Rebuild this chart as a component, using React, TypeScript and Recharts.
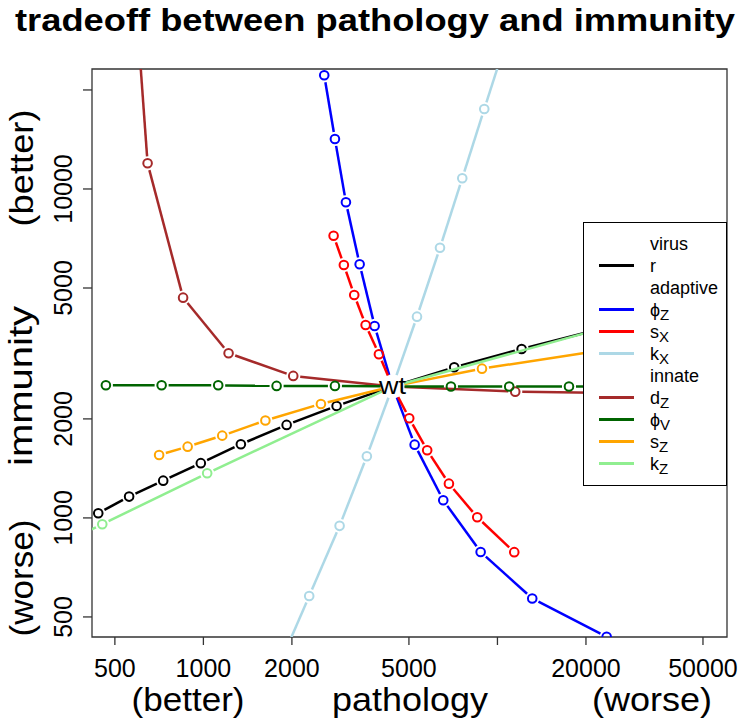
import { ScatterChart, Scatter, XAxis, YAxis, ReferenceArea, Legend } from 'recharts';

const FONT = '"Liberation Sans", Arial, sans-serif';

// axis ranges and ticks (log scales)
const X_DOMAIN = [418, 60350];
const Y_DOMAIN = [434.5, 23160];
const X_TICKS = [500, 1000, 2000, 5000, 10000, 20000, 50000];
const Y_TICKS = [500, 1000, 2000, 5000, 10000, 20000];
const X_HIDDEN_LABEL = 10000;
const Y_HIDDEN_LABEL = 20000;

// wild type, every curve passes through it
const WT_X = 4400;
const WT_Y = 2510;

// virus: r
const rX = [439, 559, 730, 980, 1341, 1919, 2838, WT_X, 7130, 12085, 21000];
const rY = [1033, 1161, 1298, 1467, 1675, 1918, 2190, WT_Y, 2871, 3264, 3700];

// adaptive: phi_Z, s_X, k_X
const phiZX = [2576, 2801, 3053, 3399, 3822, WT_X, 5229, 6542, 8767, 13133, 23520];
const phiZY = [22160, 14190, 9111, 5904, 3833, WT_Y, 1670, 1132, 788, 569, 435];

const sXX = [2772, 3004, 3258, 3562, 3953, WT_X, 5012, 5769, 6839, 8537, 11407];
const sXY = [7211, 5875, 4762, 3861, 3145, WT_Y, 2010, 1606, 1271, 1005, 787];

const kXX = [1805, 2290, 2905, 3597, WT_X, 5326, 6377, 7592, 9020, 10750];
const kXY = [354, 579, 946, 1540, WT_Y, 4092, 6630, 10780, 17510, 28500];

// innate: d_Z, phi_V, s_Z, k_Z
const dZX = [560, 646, 853, 1218, 2021, WT_X, 11495, 30000];
const dZY = [70000, 11970, 4674, 3167, 2702, WT_Y, 2420, 2390];

const phiVX = [466, 721, 1123, 1774, 2801, WT_X, 6947, 10966, 17510, 27700];
const phiVY = [2530, 2530, 2530, 2520, 2520, WT_Y, 2510, 2510, 2510, 2510];

const sZX = [707, 884, 1159, 1625, 2510, WT_X, 8860, 24000];
const sZY = [1554, 1647, 1779, 1978, 2221, WT_Y, 2843, 3260];

const kZX = [300, 453, 1030, WT_X, 22000];
const kZY = [800, 957, 1367, WT_Y, 3740];

type Pt = { x: number; y: number; wt: boolean };

const makeSeries = (xs: number[], ys: number[]): Pt[] =>
  xs.map((x, i) => ({ x, y: ys[i], wt: x === WT_X && ys[i] === WT_Y }));

const SERIES = [
  { key: 'r', color: '#000000', data: makeSeries(rX, rY) },
  { key: 'phiZ', color: '#0000FF', data: makeSeries(phiZX, phiZY) },
  { key: 'sX', color: '#FF0000', data: makeSeries(sXX, sXY) },
  { key: 'kX', color: '#ADD8E6', data: makeSeries(kXX, kXY) },
  { key: 'dZ', color: '#A52A2A', data: makeSeries(dZX, dZY) },
  { key: 'phiV', color: '#006400', data: makeSeries(phiVX, phiVY) },
  { key: 'sZ', color: '#FFA500', data: makeSeries(sZX, sZY) },
  { key: 'kZ', color: '#90EE90', data: makeSeries(kZX, kZY) },
];

// legend rows: [main text, subscript, colour or null for group headings]
const LEGEND_ROWS: [string, string, string | null][] = [
  ['virus', '', null],
  ['r', '', '#000000'],
  ['adaptive', '', null],
  ['\u03D5', 'Z', '#0000FF'],
  ['s', 'X', '#FF0000'],
  ['k', 'X', '#ADD8E6'],
  ['innate', '', null],
  ['d', 'Z', '#A52A2A'],
  ['\u03D5', 'V', '#006400'],
  ['s', 'Z', '#FFA500'],
  ['k', 'Z', '#90EE90'],
];

const CIRCLE_GAP = 7;
const WT_GAP = 12;

// R's type="b": segments stop short of every point
function gapLine(data: Pt[], color: string) {
  return (props: any) => {
    const pts = props.points || [];
    const segs = [];
    for (let i = 0; i < pts.length - 1; i++) {
      const a = pts[i];
      const b = pts[i + 1];
      const dx = b.x - a.x;
      const dy = b.y - a.y;
      const len = Math.hypot(dx, dy);
      const ga = data[i].wt ? WT_GAP : CIRCLE_GAP;
      const gb = data[i + 1].wt ? WT_GAP : CIRCLE_GAP;
      if (len <= ga + gb) continue;
      const ux = dx / len;
      const uy = dy / len;
      segs.push(
        <line key={i} x1={a.x + ux * ga} y1={a.y + uy * ga} x2={b.x - ux * gb} y2={b.y - uy * gb}
          stroke={color} strokeWidth={2.5} />
      );
    }
    return <g>{segs}</g>;
  };
}

function ring(color: string) {
  return (props: any) => {
    if (props.payload?.wt) return <g />;
    return <circle cx={props.cx} cy={props.cy} r={4.3} fill="none" stroke={color} strokeWidth={2} />;
  };
}

const XTick = (props: any) => {
  const v = props.payload.value;
  if (v === X_HIDDEN_LABEL) return <g />;
  return (
    <text x={props.x} y={677} textAnchor="middle" fontSize={25} fontFamily={FONT} fill="#000">{v}</text>
  );
};

const YTick = (props: any) => {
  const v = props.payload.value;
  if (v === Y_HIDDEN_LABEL) return <g />;
  return (
    <text x={72} y={props.y} transform={`rotate(-90 72 ${props.y})`} textAnchor="middle"
      fontSize={25} fontFamily={FONT} fill="#000">{v}</text>
  );
};

const Titles = () => {
  const big = { fontFamily: FONT, fill: '#000', lengthAdjust: 'spacingAndGlyphs' as const };
  const rot = (x: number, y: number) => `rotate(-90 ${x} ${y})`;
  return (
    <g>
      <text x={375} y={31} textAnchor="middle" fontSize={31} fontWeight="bold" textLength={720} {...big}>
        tradeoff between pathology and immunity
      </text>
      <text x={188} y={711} textAnchor="middle" fontSize={33} textLength={113} {...big}>(better)</text>
      <text x={410} y={711} textAnchor="middle" fontSize={33} textLength={156} {...big}>pathology</text>
      <text x={652} y={711} textAnchor="middle" fontSize={33} textLength={120} {...big}>(worse)</text>
      <text x={33} y={168} transform={rot(33, 168)} textAnchor="middle" fontSize={34} textLength={117} {...big}>(better)</text>
      <text x={32} y={386} transform={rot(32, 386)} textAnchor="middle" fontSize={34} textLength={160} {...big}>immunity</text>
      <text x={33} y={578} transform={rot(33, 578)} textAnchor="middle" fontSize={34} textLength={117} {...big}>(worse)</text>
    </g>
  );
};

const LegendBox = () => (
  <svg width={142} height={262} style={{ display: 'block' }}>
    {LEGEND_ROWS.map(([label, sub, color], i) => {
      const cy = 20.5 + i * 22;
      return (
        <g key={i}>
          {color && <line x1={15} x2={50} y1={cy} y2={cy} stroke={color} strokeWidth={3} />}
          <text x={66} y={cy + 6} fontSize={18} fontFamily={FONT} fill="#000">
            {label}
            {sub && <tspan fontSize={15} dy={4}>{sub}</tspan>}
          </text>
        </g>
      );
    })}
  </svg>
);

export default function App() {
  return (
    <div style={{ position: 'absolute', left: 0, top: 0, background: '#fff' }}>
      <ScatterChart width={750} height={726} margin={{ top: 69, right: 23, left: 0, bottom: 0 }}>
        <XAxis
          type="number"
          dataKey="x"
          scale="log"
          domain={X_DOMAIN}
          ticks={X_TICKS}
          allowDataOverflow
          height={89}
          axisLine={false}
          tickLine={{ stroke: '#333', strokeWidth: 1.3 }}
          tickSize={8}
          tick={XTick}
          label={Titles}
        />
        <YAxis
          type="number"
          dataKey="y"
          scale="log"
          domain={Y_DOMAIN}
          ticks={Y_TICKS}
          allowDataOverflow
          width={92}
          axisLine={false}
          tickLine={{ stroke: '#333', strokeWidth: 1.3 }}
          tickSize={9}
          tick={YTick}
        />
        <ReferenceArea
          x1={X_DOMAIN[0]}
          x2={X_DOMAIN[1]}
          y1={Y_DOMAIN[0]}
          y2={Y_DOMAIN[1]}
          ifOverflow="visible"
          fill="none"
          stroke="#333"
          strokeWidth={1.3}
        />
        {SERIES.map((s) => (
          <Scatter
            key={s.key}
            name={s.key}
            data={s.data}
            fill={s.color}
            line={gapLine(s.data, s.color)}
            shape={ring(s.color)}
            isAnimationActive={false}
          />
        ))}
        <Scatter
          name="wt"
          data={[{ x: WT_X, y: WT_Y }]}
          fill="#000"
          isAnimationActive={false}
          shape={(p: any) => (
            <text x={p.cx} y={p.cy + 8} textAnchor="middle" fontSize={24} fontFamily={FONT} fill="#000"
              textLength={27} lengthAdjust="spacingAndGlyphs">wt</text>
          )}
        />
        <Legend
          layout="horizontal"
          align="center"
          verticalAlign="middle"
          content={() => <LegendBox />}
          wrapperStyle={{
            left: 583,
            top: 222,
            width: 144,
            height: 264,
            background: '#fff',
            border: '1px solid #000',
            boxSizing: 'border-box',
          }}
        />
      </ScatterChart>
    </div>
  );
}
